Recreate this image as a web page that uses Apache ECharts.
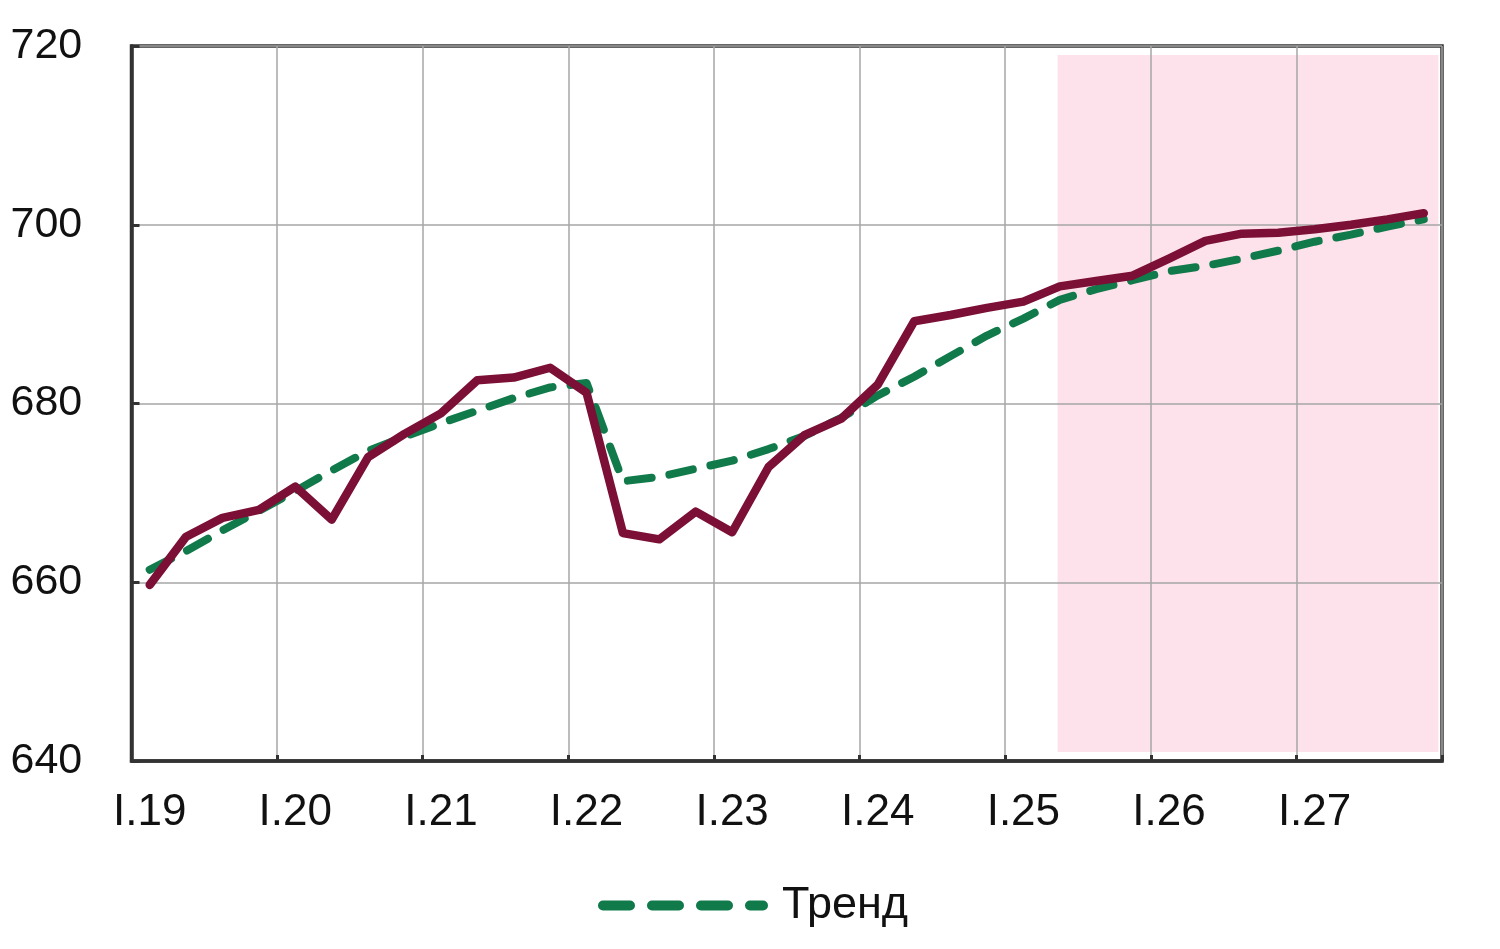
<!DOCTYPE html>
<html>
<head>
<meta charset="utf-8">
<script src="https://cdn.jsdelivr.net/npm/echarts@6/dist/echarts.min.js"></script>
<style>
html,body{margin:0;padding:0;background:#fff;}
#c{width:1500px;height:949px;}
</style>
</head>
<body>
<div id="c"></div>
<script>
const quarters = (function(){
  const r = ['I','II','III','IV'], out = [];
  for (let y = 19; y <= 27; y++) for (let q = 0; q < 4; q++) out.push(r[q] + '.' + y);
  return out;
})();

const actual = [
  659.7, 665.1, 667.2, 668.1, 670.7, 667.0, 674.0, 676.6, 678.9, 682.6, 682.9, 684.0,
  681.2, 665.5, 664.8, 667.9, 665.6, 672.9, 676.5, 678.3, 682.1, 689.2, 689.9, 690.7,
  691.4, 693.1, 693.7, 694.3, 696.2, 698.2, 699.0, 699.1, 699.5, 700.0, 700.6, 701.3
];

const trend = [
  661.4, 663.5, 665.8, 668.0, 670.2, 672.5, 674.7, 676.3, 677.8, 679.2, 680.6, 681.8,
  682.3, 671.3, 671.8, 672.7, 673.6, 674.9, 676.4, 678.4, 680.9, 683.0, 685.3, 687.6,
  689.5, 691.6, 692.8, 693.8, 694.8, 695.4, 696.2, 697.1, 698.1, 698.9, 699.8, 700.6
];

const yTicks = [640, 660, 680, 700, 720];
const legendNames = ['Тренд'];

const chart = echarts.init(document.getElementById('c'), null, {renderer: 'canvas'});
const font = 'Liberation Sans, Arial, sans-serif';

const dashIcon = 'path://' +
  'M5,0 L32,0 A5,5 0 0 1 32,10 L5,10 A5,5 0 0 1 5,0 Z ' +
  'M54,0 L81,0 A5,5 0 0 1 81,10 L54,10 A5,5 0 0 1 54,0 Z ' +
  'M103,0 L130,0 A5,5 0 0 1 130,10 L103,10 A5,5 0 0 1 103,0 Z ' +
  'M152,0 L165,0 A5,5 0 0 1 165,10 L152,10 A5,5 0 0 1 152,0 Z';

chart.setOption({
  animation: false,
  backgroundColor: '#ffffff',
  grid: {
    left: 131.5, right: 58, top: 46, bottom: 188,
    show: true, borderColor: '#333333', borderWidth: 3.5, backgroundColor: 'transparent', z: 2
  },
  legend: {
    data: [{name: legendNames[0], icon: dashIcon}],
    left: 593, top: 878,
    itemWidth: 170, itemHeight: 10,
    itemGap: 0,
    itemStyle: {color: '#117a4b', borderWidth: 0},
    lineStyle: {opacity: 0},
    textStyle: {fontFamily: font, fontSize: 45, color: '#111', padding: [0,0,0,9]}
  },
  xAxis: [{
    type: 'category',
    data: quarters,
    boundaryGap: true,
    z: 2,
    axisLine: {show: true, lineStyle: {color: '#333', width: 3.5}},
    axisTick: {show: true, inside: true, length: 6, interval: 3, lineStyle: {color: '#333', width: 3}},
    splitLine: {show: true, interval: 3, lineStyle: {color: '#a6a6a6', width: 1.5}},
    axisLabel: {interval: 3, margin: 30, fontFamily: font, fontSize: 44, color: '#111'}
  }, {
    type: 'value', min: 0, max: 36, show: false
  }],
  yAxis: {
    type: 'value',
    min: yTicks[0], max: yTicks[yTicks.length - 1], interval: 20,
    z: 2,
    axisLine: {show: true, lineStyle: {color: '#333', width: 3.5}},
    axisTick: {show: true, inside: true, length: 8, lineStyle: {color: '#333', width: 3}},
    splitLine: {show: true, lineStyle: {color: '#a6a6a6', width: 1.5}},
    axisLabel: {align: 'left', margin: 121, fontFamily: font, fontSize: 43, color: '#111'}
  },
  series: [{
    name: 'shade',
    type: 'line',
    xAxisIndex: 1,
    data: [],
    silent: true,
    z: 1,
    markArea: {
      silent: true,
      z: 1,
      itemStyle: {color: '#fde1eb'},
      data: [[{coord: [25.44, 719]}, {coord: [35.9, 641]}]]
    }
  }, {
    name: 'Тренд',
    type: 'line',
    data: trend,
    symbol: 'none',
    z: 3,
    lineStyle: {color: '#117a4b', width: 8, type: [24, 18], cap: 'round', join: 'round'},
    itemStyle: {color: '#117a4b'}
  }, {
    name: 'Факт',
    type: 'line',
    data: actual,
    symbol: 'none',
    z: 4,
    lineStyle: {color: '#7b0f35', width: 8.5, join: 'round', cap: 'round'},
    itemStyle: {color: '#7b0f35'}
  }]
});
</script>
</body>
</html>
